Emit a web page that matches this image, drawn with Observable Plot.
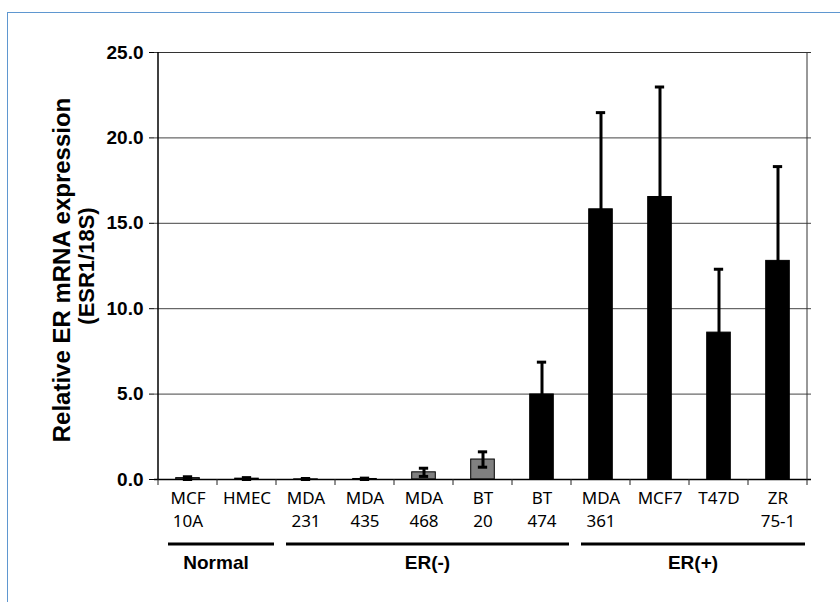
<!DOCTYPE html>
<html><head><meta charset="utf-8">
<script src="https://cdn.jsdelivr.net/npm/d3@7"></script>
<script src="https://cdn.jsdelivr.net/npm/@observablehq/plot@0.6"></script>
<style>
html,body{margin:0;padding:0;background:#fff;width:840px;height:602px;overflow:hidden;}
#frame{position:absolute;left:7px;top:12px;width:900px;height:700px;border-top:1px solid #5f97d0;border-left:1px solid #5f97d0;box-sizing:border-box;}
#chart{position:absolute;left:0;top:0;}
</style></head><body><div id="frame"></div><div id="chart"></div>
<script>
const categories = ["MCF 10A","HMEC","MDA 231","MDA 435","MDA 468","BT 20","BT 474","MDA 361","MCF7","T47D","ZR 75-1"];
const tickLabels = ["MCF\n10A","HMEC","MDA\n231","MDA\n435","MDA\n468","BT\n20","BT\n474","MDA\n361","MCF7","T47D","ZR\n75-1"];
const values = [0.08,0.05,0.01,0.03,0.42,1.17,4.98,15.82,16.54,8.6,12.8];
const errors = [0.08,0.06,0.05,0.05,0.24,0.45,1.89,5.66,6.44,3.71,5.52];
const fills = ["#808080","#808080","#808080","#808080","#808080","#808080","#000000","#000000","#000000","#000000","#000000"];
const groupNames = ["Normal","ER(-)","ER(+)"];
const groupFirst = ["MCF 10A","MDA 231","MDA 361"];
const groupLast = ["HMEC","BT 474","ZR 75-1"];
const yTicks = [0,5,10,15,20,25];
const yTitle1 = "Relative ER mRNA expression";
const yTitle2 = "(ESR1/18S)";

const data = categories.map((c,i)=>({c, v:values[i], e:errors[i], fill:fills[i], label:tickLabels[i]}));
const boldFont = "Liberation Sans, Arial, sans-serif";

const plot = Plot.plot({
  width:840, height:602,
  marginLeft:154, marginRight:29, marginTop:52, marginBottom:123,
  style:{background:"transparent", overflow:"visible"},
  x:{domain:categories, padding:0, axis:null},
  y:{domain:[0,25], axis:null},
  color:{type:"identity"},
  marks:[
    Plot.gridY(yTicks.filter(t=>t>0&&t<25), {stroke:"#444", strokeOpacity:1, strokeWidth:1}),
    Plot.ruleY([25], {stroke:"#333", strokeWidth:1}),
    Plot.barY(data, {x:"c", y:"v", fill:"fill", stroke:"#000", strokeWidth:1, insetLeft:17.7, insetRight:17.7}),
    Plot.ruleX(data, {x:"c", y1:d=>d.v-d.e, y2:d=>d.v+d.e, stroke:"#000", strokeWidth:3}),
    Plot.tickY(data, {x:"c", y:d=>d.v+d.e, stroke:"#000", strokeWidth:3, insetLeft:24.85, insetRight:24.85}),
    Plot.tickY(data, {x:"c", y:d=>Math.max(0,d.v-d.e), stroke:"#000", strokeWidth:3, insetLeft:24.85, insetRight:24.85}),
    Plot.ruleY([0], {stroke:"#000", strokeWidth:1.5}),
    Plot.axisY(yTicks, {label:null, tickFormat:d3.format(".1f"), tickSize:5, tickPadding:6, fontSize:19, fontWeight:"bold", fontFamily:boldFont}),
    Plot.text(data, {x:"c", text:"label", frameAnchor:"bottom", lineAnchor:"top", dy:8, fontSize:17, lineHeight:1.36, fontFamily:"Noto Sans, sans-serif", fill:"#000"}),
    Plot.text([yTitle1], {frameAnchor:"left", text:d=>d, rotate:-90, dx:-92, dy:4, textAnchor:"middle", lineAnchor:"middle", fontSize:24, fontWeight:"bold", fontFamily:boldFont, fill:"#000"}),
    Plot.text([yTitle2], {frameAnchor:"left", text:d=>d, rotate:-90, dx:-68, dy:0, textAnchor:"middle", lineAnchor:"middle", fontSize:22, fontWeight:"bold", fontFamily:boldFont, fill:"#000"})
  ]
});
document.getElementById("chart").appendChild(plot);

const svg = d3.select(plot);
const xs = plot.scale("x"), ys = plot.scale("y");
const bw = xs.bandwidth;
const y0 = ys.apply(0), yTop = ys.apply(25);
const g = svg.append("g");
const xLeft = xs.apply(categories[0]);
const xRight = xs.apply(categories[categories.length-1])+bw;
// left axis line and right border
g.append("line").attr("x1",xLeft).attr("x2",xLeft).attr("y1",yTop).attr("y2",y0).attr("stroke","#000").attr("stroke-width",1.5);
g.append("line").attr("x1",xRight).attr("x2",xRight).attr("y1",yTop).attr("y2",y0).attr("stroke","#333").attr("stroke-width",1);
// category boundary ticks
const bounds = categories.map(c=>xs.apply(c)).concat([xRight]);
bounds.forEach(b=>g.append("line").attr("x1",b).attr("x2",b).attr("y1",y0).attr("y2",y0+6).attr("stroke","#222").attr("stroke-width",1));
// group lines and labels
groupNames.forEach((name,i)=>{
  const a = xs.apply(groupFirst[i])+10, b = xs.apply(groupLast[i])+bw-2;
  g.append("line").attr("x1",a).attr("x2",b).attr("y1",y0+65).attr("y2",y0+65).attr("stroke","#000").attr("stroke-width",3);
  g.append("text").attr("x",(a+b)/2 - (i===0?5:0)).attr("y",y0+85).attr("text-anchor","middle").attr("dominant-baseline","middle")
   .attr("font-family",boldFont).attr("font-weight","bold").attr("font-size",19).attr("fill","#000").text(name);
});
</script></body></html>
